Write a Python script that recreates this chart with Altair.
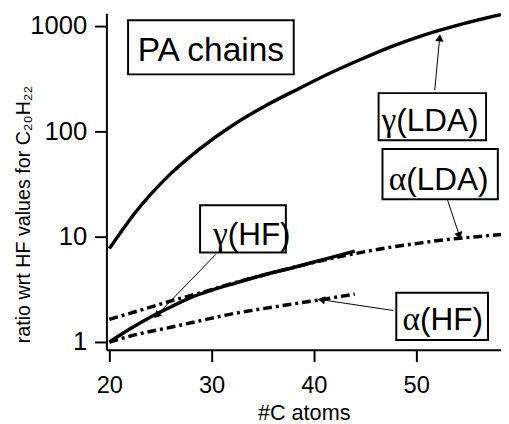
import math
import altair as alt
import pandas as pd

# ---- data ----
x_gamma_lda = [20, 22.5, 25.8, 28.9, 32.1, 35.4, 38.6, 41.3, 44.5, 47.7, 50.9, 54.1, 58.3]
y_gamma_lda = [7.7, 16.8, 38, 69, 115, 178, 257, 347, 479, 646, 832, 1023, 1290]

x_alpha_lda = [20, 23, 26, 29, 32, 35, 38, 41, 44, 47, 50, 53, 56, 58.3]
y_alpha_lda = [1.64, 2.0, 2.45, 2.95, 3.6, 4.3, 5.1, 6.0, 6.9, 7.8, 8.6, 9.4, 10.0, 10.5]

x_gamma_hf = [20, 22, 24, 26, 28, 30, 32, 35, 38, 41, 44]
y_gamma_hf = [1.0, 1.33, 1.72, 2.15, 2.65, 3.1, 3.55, 4.3, 5.1, 6.1, 7.3]

x_alpha_hf = [20, 23, 26, 29, 32, 35, 38, 41, 44]
y_alpha_hf = [1.0, 1.2, 1.38, 1.6, 1.85, 2.07, 2.3, 2.55, 2.85]

x_ticks = [20, 30, 40, 50]
y_ticks = [1, 10, 100, 1000]

# annotations (data units)
ann_greek = ["γ", "γ", "α", "α"]
ann_rest = ["(HF)", "(LDA)", "(LDA)", "(HF)"]
ann_split_x = [31.57, 48.06, 49.03, 50.38]
ann_base_y = [8.42, 100, 27.5, 1.29]
box_x1 = [28.87, 46.33, 46.71, 48.06, 21.83]
box_x2 = [37.26, 56.84, 57.99, 57.03, 38.03]
box_y1 = [7.09, 82.4, 22.7, 1.044, 348]
box_y2 = [19.9, 231, 67.9, 2.93, 1138]
arr_x1 = [30.41, 51.82, 53.08, 47.77]
arr_y1 = [6.79, 247, 22.2, 1.99]
arr_x2 = [24.63, 52.30, 54.23, 40.73]
arr_y2 = [1.79, 773, 10.2, 2.52]

title_text = ["PA chains"]
title_x = [29.93]
title_y = [471]

# ---- layout ----
XDOM = [19.71, 58.3]
YDOM = [0.842, 1323]
W, H = 401, 342
FONT = "Liberation Sans"


def to_px(x, y):
    px = (x - XDOM[0]) / (XDOM[1] - XDOM[0]) * W
    ly0, ly1 = math.log10(YDOM[0]), math.log10(YDOM[1])
    py = H - (math.log10(y) - ly0) / (ly1 - ly0) * H
    return px, py


angles = []
for a, b, c, d in zip(arr_x1, arr_y1, arr_x2, arr_y2):
    p1 = to_px(a, b)
    p2 = to_px(c, d)
    ang = math.degrees(math.atan2(p2[0] - p1[0], -(p2[1] - p1[1]))) % 360
    angles.append(ang)

xs = alt.Scale(domain=XDOM, nice=False, zero=False)
ys = alt.Scale(type="log", domain=YDOM, nice=False)

def series(xv, yv, name):
    return pd.DataFrame({"x": xv, "y": yv, "s": name})

solid = pd.concat([series(x_gamma_lda, y_gamma_lda, "gLDA"), series(x_gamma_hf, y_gamma_hf, "gHF")])
dashed = pd.concat([series(x_alpha_lda, y_alpha_lda, "aLDA"), series(x_alpha_hf, y_alpha_hf, "aHF")])

xenc = alt.X("x:Q", scale=xs, axis=alt.Axis(values=x_ticks, title="#C atoms", format="d",
                                              labelPadding=12, labelFontSize=24,
                                              titleFontSize=22, titlePadding=6))
yenc = alt.Y("y:Q", scale=ys, axis=alt.Axis(values=y_ticks, format="d",
                                              labelFontSize=26, labelPadding=8,
                                              title="ratio wrt HF values for C₂₀H₂₂",
                                              titleX=-84, titleY=204, titleAngle=270,
                                              titleFontSize=20,
                                              titleAlign="center", titleBaseline="middle"))

solid_lines = alt.Chart(solid).mark_line(color="black", strokeWidth=3.5, clip=True,
                                         interpolate="monotone").encode(
    x=xenc, y=yenc, detail="s:N")
dash_lines = alt.Chart(dashed).mark_line(color="black", strokeWidth=3.5, clip=True,
                                         strokeDash=[9, 4, 3, 4], interpolate="monotone").encode(
    x="x:Q", y="y:Q", detail="s:N")

boxes_df = pd.DataFrame({"x1": box_x1, "x2": box_x2, "y1": box_y1, "y2": box_y2})
boxes = alt.Chart(boxes_df).mark_rect(fill="white", stroke="black", strokeWidth=2).encode(
    x="x1:Q", x2="x2:Q", y="y1:Q", y2="y2:Q")

arr_df = pd.DataFrame({"x1": arr_x1, "y1": arr_y1, "x2": arr_x2, "y2": arr_y2, "ang": angles})
arrows = alt.Chart(arr_df).mark_rule(color="black", strokeWidth=1).encode(
    x="x1:Q", y="y1:Q", x2="x2:Q", y2="y2:Q")
heads = alt.Chart(arr_df).mark_point(shape="triangle-up", filled=True, color="black",
                                     size=70, opacity=1).encode(
    x="x2:Q", y="y2:Q", angle=alt.Angle("ang:Q", scale=None))

lab_df = pd.DataFrame({"g": ann_greek, "r": ann_rest, "x": ann_split_x, "y": ann_base_y})
greek = alt.Chart(lab_df).mark_text(font="Liberation Serif", fontSize=34, align="right",
                                    baseline="alphabetic", color="black").encode(
    x="x:Q", y="y:Q", text="g:N")
rest = alt.Chart(lab_df).mark_text(font=FONT, fontSize=32, align="left",
                                   baseline="alphabetic", color="black").encode(
    x="x:Q", y="y:Q", text="r:N")

t_df = pd.DataFrame({"t": title_text, "x": title_x, "y": title_y})
ttl = alt.Chart(t_df).mark_text(font=FONT, fontSize=34, align="center",
                                baseline="alphabetic", color="black").encode(
    x="x:Q", y="y:Q", text="t:N")

chart = alt.layer(solid_lines, dash_lines, arrows, heads, boxes, greek, rest, ttl).properties(
    width=W, height=H,
    autosize=alt.AutoSizeParams(type="none"),
    padding={"left": 100, "top": 2, "right": 0, "bottom": 74},
).configure_view(stroke=None).configure_axis(
    grid=False, domainColor="black", domainWidth=2, tickColor="black", tickWidth=2,
    tickSize=12, labelFont=FONT, labelColor="black",
    titleFont=FONT, titleFontWeight="normal", titleColor="black",
)

chart.save("out.html", embed_options={"renderer": "svg", "actions": False})
